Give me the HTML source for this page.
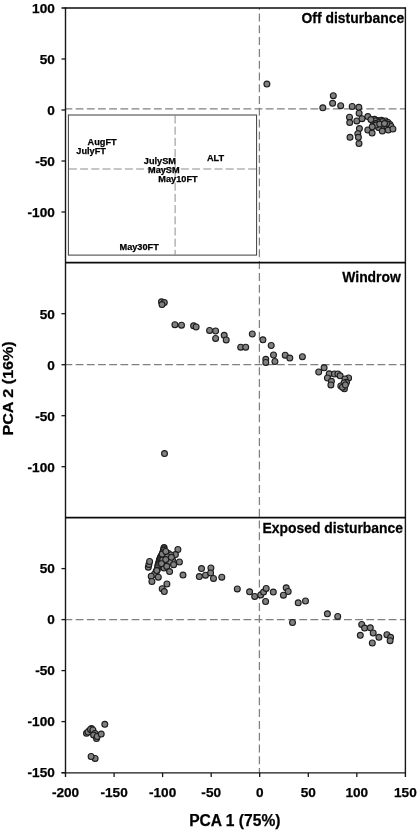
<!DOCTYPE html>
<html lang="en"><head><meta charset="utf-8"><title>PCA plot</title>
<style>
html,body{margin:0;padding:0;background:#fff;}
body{width:419px;height:833px;overflow:hidden;}
svg{display:block;}
text{font-family:"Liberation Sans",Arial,Helvetica,sans-serif;font-weight:700;fill:#000;stroke:#000;stroke-width:0.25px;}
.ax{stroke:#161616;stroke-width:1.4;fill:none;}
.pl{stroke:#0c0c0c;stroke-width:1.7;fill:none;}
.tk{stroke:#161616;stroke-width:1.3;fill:none;}
.ds{stroke:#808080;stroke-width:1.25;fill:none;stroke-dasharray:8 3.5;}
.di{stroke:#707070;stroke-width:0.8;fill:none;stroke-dasharray:8 3.2;}
.pt circle{fill:#808080;stroke:#1c1c1c;stroke-width:1.1;}
.tl{font-size:13.6px;}
.pn{font-size:13.9px;}
.at{font-size:15.6px;}
.il{font-size:9.2px;}
</style></head><body>
<svg width="419" height="833" viewBox="0 0 419 833">
<rect x="0" y="0" width="419" height="833" fill="#ffffff"/>

<line class="ds" x1="66" y1="108.9" x2="405.4" y2="108.9" style="stroke-dasharray:7.8 3.38;stroke-dashoffset:1.5"/>
<line class="ds" x1="66" y1="364.6" x2="405.4" y2="364.6" style="stroke-dasharray:7.8 3.38;stroke-dashoffset:1.5"/>
<line class="ds" x1="66" y1="619.6" x2="405.4" y2="619.6" style="stroke-dasharray:7.8 3.38;stroke-dashoffset:1.5"/>
<line class="ds" x1="259.4" y1="8" x2="259.4" y2="772.9" style="stroke-dasharray:8 3.79;stroke-dashoffset:6.28"/>
<rect x="68.4" y="115" width="188.2" height="140.1" fill="#fff" stroke="#3c3c3c" stroke-width="1"/>
<line class="di" x1="68.9" y1="169" x2="256.1" y2="169"/>
<line class="di" x1="175.1" y1="115.5" x2="175.1" y2="254.6"/>
<text class="il" x="87.6" y="145.0">AugFT</text>
<text class="il" x="76.3" y="153.8">JulyFT</text>
<text class="il" x="143.8" y="163.8">JulySM</text>
<text class="il" x="148.0" y="172.6">MaySM</text>
<text class="il" x="158.3" y="182.1">May10FT</text>
<text class="il" x="206.9" y="160.5">ALT</text>
<text class="il" x="119.5" y="249.6">May30FT</text>
<g class="pt">
<circle cx="266.9" cy="84.1" r="2.95"/>
<circle cx="333.3" cy="95.7" r="2.95"/>
<circle cx="332.6" cy="103.3" r="2.95"/>
<circle cx="322.8" cy="107.8" r="2.95"/>
<circle cx="340.7" cy="105.7" r="2.95"/>
<circle cx="352.2" cy="106.5" r="2.95"/>
<circle cx="358.8" cy="107.3" r="2.95"/>
<circle cx="359.1" cy="113.2" r="2.95"/>
<circle cx="349.5" cy="117.2" r="2.95"/>
<circle cx="349.7" cy="122.6" r="2.95"/>
<circle cx="356.8" cy="120.9" r="2.95"/>
<circle cx="373.0" cy="121.5" r="2.95"/>
<circle cx="380.5" cy="122.5" r="2.95"/>
<circle cx="383.0" cy="126.0" r="2.95"/>
<circle cx="386.8" cy="126.5" r="2.95"/>
<circle cx="378.5" cy="127.5" r="2.95"/>
<circle cx="387.0" cy="122.5" r="2.95"/>
<circle cx="374.5" cy="119.3" r="2.95"/>
<circle cx="377.8" cy="120.6" r="2.95"/>
<circle cx="381.5" cy="120.3" r="2.95"/>
<circle cx="385.5" cy="121.0" r="2.95"/>
<circle cx="388.0" cy="122.5" r="2.95"/>
<circle cx="390.0" cy="124.6" r="2.95"/>
<circle cx="391.0" cy="126.5" r="2.95"/>
<circle cx="375.4" cy="121.0" r="2.95"/>
<circle cx="378.6" cy="122.4" r="2.95"/>
<circle cx="382.6" cy="121.6" r="2.95"/>
<circle cx="386.5" cy="123.8" r="2.95"/>
<circle cx="367.8" cy="116.6" r="2.95"/>
<circle cx="362.0" cy="118.7" r="2.95"/>
<circle cx="375.8" cy="123.6" r="2.95"/>
<circle cx="376.0" cy="125.1" r="2.95"/>
<circle cx="367.8" cy="130.0" r="2.95"/>
<circle cx="372.1" cy="133.1" r="2.95"/>
<circle cx="382.3" cy="131.1" r="2.95"/>
<circle cx="388.2" cy="130.1" r="2.95"/>
<circle cx="392.9" cy="129.0" r="2.95"/>
<circle cx="359.4" cy="128.6" r="2.95"/>
<circle cx="357.8" cy="133.7" r="2.95"/>
<circle cx="350.0" cy="137.3" r="2.95"/>
<circle cx="358.4" cy="137.3" r="2.95"/>
<circle cx="359.0" cy="143.6" r="2.95"/>
<circle cx="370.9" cy="119.6" r="2.95"/>
<circle cx="372.2" cy="126.8" r="2.95"/>
<circle cx="379.7" cy="124.1" r="2.95"/>
<circle cx="384.5" cy="123.6" r="2.95"/>
</g>
<g class="pt">
<circle cx="161.5" cy="301.8" r="2.95"/>
<circle cx="164.3" cy="302.6" r="2.95"/>
<circle cx="162.0" cy="304.6" r="2.95"/>
<circle cx="174.9" cy="324.7" r="2.95"/>
<circle cx="181.5" cy="325.2" r="2.95"/>
<circle cx="193.6" cy="325.8" r="2.95"/>
<circle cx="196.1" cy="327.0" r="2.95"/>
<circle cx="209.6" cy="330.4" r="2.95"/>
<circle cx="215.6" cy="331.0" r="2.95"/>
<circle cx="215.6" cy="338.4" r="2.95"/>
<circle cx="224.2" cy="335.3" r="2.95"/>
<circle cx="226.2" cy="339.9" r="2.95"/>
<circle cx="240.7" cy="347.2" r="2.95"/>
<circle cx="245.7" cy="347.2" r="2.95"/>
<circle cx="252.3" cy="334.0" r="2.95"/>
<circle cx="262.9" cy="339.8" r="2.95"/>
<circle cx="271.2" cy="345.5" r="2.95"/>
<circle cx="273.5" cy="355.0" r="2.95"/>
<circle cx="265.8" cy="359.3" r="2.95"/>
<circle cx="265.8" cy="362.4" r="2.95"/>
<circle cx="274.9" cy="361.5" r="2.95"/>
<circle cx="285.2" cy="355.2" r="2.95"/>
<circle cx="289.8" cy="358.1" r="2.95"/>
<circle cx="302.4" cy="356.7" r="2.95"/>
<circle cx="324.1" cy="367.8" r="2.95"/>
<circle cx="318.7" cy="372.0" r="2.95"/>
<circle cx="329.2" cy="373.8" r="2.95"/>
<circle cx="334.4" cy="374.0" r="2.95"/>
<circle cx="337.9" cy="374.0" r="2.95"/>
<circle cx="340.1" cy="375.8" r="2.95"/>
<circle cx="327.4" cy="378.0" r="2.95"/>
<circle cx="331.4" cy="381.3" r="2.95"/>
<circle cx="330.9" cy="384.9" r="2.95"/>
<circle cx="348.6" cy="377.9" r="2.95"/>
<circle cx="345.0" cy="379.0" r="2.95"/>
<circle cx="346.5" cy="382.3" r="2.95"/>
<circle cx="344.0" cy="382.9" r="2.95"/>
<circle cx="340.8" cy="386.0" r="2.95"/>
<circle cx="344.4" cy="388.8" r="2.95"/>
<circle cx="342.5" cy="387.2" r="2.95"/>
<circle cx="345.4" cy="385.0" r="2.95"/>
<circle cx="164.5" cy="453.6" r="2.95"/>
</g>
<g class="pt">
<circle cx="164.1" cy="547.6" r="2.95"/>
<circle cx="163.8" cy="548.8" r="2.95"/>
<circle cx="163.4" cy="550.2" r="2.95"/>
<circle cx="163.0" cy="552.0" r="2.95"/>
<circle cx="162.3" cy="553.8" r="2.95"/>
<circle cx="161.6" cy="555.4" r="2.95"/>
<circle cx="160.9" cy="556.6" r="2.95"/>
<circle cx="160.4" cy="557.6" r="2.95"/>
<circle cx="160.0" cy="558.6" r="2.95"/>
<circle cx="159.6" cy="559.8" r="2.95"/>
<circle cx="159.3" cy="560.8" r="2.95"/>
<circle cx="158.9" cy="562.2" r="2.95"/>
<circle cx="158.6" cy="563.6" r="2.95"/>
<circle cx="158.2" cy="564.6" r="2.95"/>
<circle cx="157.9" cy="565.8" r="2.95"/>
<circle cx="157.5" cy="567.8" r="2.95"/>
<circle cx="157.2" cy="570.1" r="2.95"/>
<circle cx="156.5" cy="571.0" r="2.95"/>
<circle cx="155.8" cy="572.2" r="2.95"/>
<circle cx="154.3" cy="574.4" r="2.95"/>
<circle cx="148.3" cy="567.2" r="2.95"/>
<circle cx="148.9" cy="564.4" r="2.95"/>
<circle cx="149.6" cy="561.5" r="2.95"/>
<circle cx="151.2" cy="576.2" r="2.95"/>
<circle cx="158.3" cy="577.2" r="2.95"/>
<circle cx="151.9" cy="581.5" r="2.95"/>
<circle cx="168.5" cy="553.5" r="2.95"/>
<circle cx="172.5" cy="560.0" r="2.95"/>
<circle cx="167.5" cy="563.0" r="2.95"/>
<circle cx="164.0" cy="568.0" r="2.95"/>
<circle cx="169.4" cy="561.5" r="2.95"/>
<circle cx="162.9" cy="562.2" r="2.95"/>
<circle cx="177.9" cy="549.5" r="2.95"/>
<circle cx="175.4" cy="554.6" r="2.95"/>
<circle cx="170.8" cy="555.0" r="2.95"/>
<circle cx="167.2" cy="556.5" r="2.95"/>
<circle cx="162.7" cy="559.9" r="2.95"/>
<circle cx="165.7" cy="559.6" r="2.95"/>
<circle cx="161.5" cy="563.7" r="2.95"/>
<circle cx="166.8" cy="566.4" r="2.95"/>
<circle cx="173.6" cy="564.7" r="2.95"/>
<circle cx="179.4" cy="562.0" r="2.95"/>
<circle cx="169.6" cy="571.6" r="2.95"/>
<circle cx="162.2" cy="554.1" r="2.95"/>
<circle cx="171.4" cy="557.3" r="2.95"/>
<circle cx="165.8" cy="551.4" r="2.95"/>
<circle cx="183.0" cy="575.1" r="2.95"/>
<circle cx="156.8" cy="570.6" r="2.95"/>
<circle cx="166.9" cy="584.0" r="2.95"/>
<circle cx="162.2" cy="588.7" r="2.95"/>
<circle cx="164.3" cy="591.6" r="2.95"/>
<circle cx="199.3" cy="576.6" r="2.95"/>
<circle cx="201.5" cy="568.6" r="2.95"/>
<circle cx="210.9" cy="568.0" r="2.95"/>
<circle cx="205.5" cy="575.2" r="2.95"/>
<circle cx="210.6" cy="572.9" r="2.95"/>
<circle cx="213.5" cy="578.4" r="2.95"/>
<circle cx="221.8" cy="577.2" r="2.95"/>
<circle cx="237.3" cy="588.9" r="2.95"/>
<circle cx="249.6" cy="591.8" r="2.95"/>
<circle cx="254.7" cy="596.4" r="2.95"/>
<circle cx="260.7" cy="595.0" r="2.95"/>
<circle cx="263.6" cy="592.1" r="2.95"/>
<circle cx="266.2" cy="588.4" r="2.95"/>
<circle cx="265.6" cy="601.5" r="2.95"/>
<circle cx="273.3" cy="592.1" r="2.95"/>
<circle cx="286.2" cy="587.8" r="2.95"/>
<circle cx="288.2" cy="591.5" r="2.95"/>
<circle cx="283.4" cy="595.2" r="2.95"/>
<circle cx="298.2" cy="602.8" r="2.95"/>
<circle cx="305.5" cy="601.0" r="2.95"/>
<circle cx="292.5" cy="622.5" r="2.95"/>
<circle cx="327.4" cy="613.8" r="2.95"/>
<circle cx="337.7" cy="616.4" r="2.95"/>
<circle cx="361.7" cy="624.4" r="2.95"/>
<circle cx="364.6" cy="628.1" r="2.95"/>
<circle cx="370.3" cy="627.8" r="2.95"/>
<circle cx="373.2" cy="633.0" r="2.95"/>
<circle cx="360.3" cy="635.3" r="2.95"/>
<circle cx="378.9" cy="637.3" r="2.95"/>
<circle cx="372.3" cy="643.0" r="2.95"/>
<circle cx="386.9" cy="634.7" r="2.95"/>
<circle cx="390.6" cy="637.3" r="2.95"/>
<circle cx="390.1" cy="640.7" r="2.95"/>
<circle cx="104.8" cy="724.3" r="2.95"/>
<circle cx="91.5" cy="728.6" r="2.95"/>
<circle cx="89.3" cy="730.8" r="2.95"/>
<circle cx="86.5" cy="733.3" r="2.95"/>
<circle cx="88.0" cy="732.0" r="2.95"/>
<circle cx="90.5" cy="729.5" r="2.95"/>
<circle cx="92.9" cy="731.5" r="2.95"/>
<circle cx="92.9" cy="730.0" r="2.95"/>
<circle cx="95.0" cy="733.5" r="2.95"/>
<circle cx="93.6" cy="735.1" r="2.95"/>
<circle cx="96.5" cy="738.6" r="2.95"/>
<circle cx="97.2" cy="736.5" r="2.95"/>
<circle cx="101.2" cy="734.1" r="2.95"/>
<circle cx="95.1" cy="758.4" r="2.95"/>
<circle cx="91.1" cy="756.5" r="2.95"/>
</g>
<line class="ax" x1="65.5" y1="7.3" x2="65.5" y2="777.1"/>
<line class="ax" x1="405.4" y1="7.3" x2="405.4" y2="777.1"/>
<line class="pl" x1="61.5" y1="8.0" x2="405.4" y2="8.0"/>
<line class="pl" x1="65.5" y1="262.7" x2="405.4" y2="262.7"/>
<line class="pl" x1="65.5" y1="517.6" x2="405.4" y2="517.6"/>
<line class="ax" x1="61.5" y1="772.9" x2="405.4" y2="772.9"/>
<text class="tl" text-anchor="end" x="54.8" y="12.8">100</text>
<line class="tk" x1="61.5" y1="59.0" x2="65.5" y2="59.0"/>
<text class="tl" text-anchor="end" x="54.8" y="63.8">50</text>
<line class="tk" x1="61.5" y1="110.0" x2="65.5" y2="110.0"/>
<text class="tl" text-anchor="end" x="54.8" y="114.8">0</text>
<line class="tk" x1="61.5" y1="161.0" x2="65.5" y2="161.0"/>
<text class="tl" text-anchor="end" x="54.8" y="165.8">-50</text>
<line class="tk" x1="61.5" y1="212.0" x2="65.5" y2="212.0"/>
<text class="tl" text-anchor="end" x="54.8" y="216.8">-100</text>
<line class="tk" x1="61.5" y1="313.7" x2="65.5" y2="313.7"/>
<text class="tl" text-anchor="end" x="54.8" y="318.5">50</text>
<line class="tk" x1="61.5" y1="364.7" x2="65.5" y2="364.7"/>
<text class="tl" text-anchor="end" x="54.8" y="369.5">0</text>
<line class="tk" x1="61.5" y1="415.7" x2="65.5" y2="415.7"/>
<text class="tl" text-anchor="end" x="54.8" y="420.5">-50</text>
<line class="tk" x1="61.5" y1="466.7" x2="65.5" y2="466.7"/>
<text class="tl" text-anchor="end" x="54.8" y="471.5">-100</text>
<line class="tk" x1="61.5" y1="568.6" x2="65.5" y2="568.6"/>
<text class="tl" text-anchor="end" x="54.8" y="573.4">50</text>
<line class="tk" x1="61.5" y1="619.6" x2="65.5" y2="619.6"/>
<text class="tl" text-anchor="end" x="54.8" y="624.4">0</text>
<line class="tk" x1="61.5" y1="670.6" x2="65.5" y2="670.6"/>
<text class="tl" text-anchor="end" x="54.8" y="675.4">-50</text>
<line class="tk" x1="61.5" y1="721.6" x2="65.5" y2="721.6"/>
<text class="tl" text-anchor="end" x="54.8" y="726.4">-100</text>
<line class="tk" x1="61.5" y1="772.6" x2="65.5" y2="772.6"/>
<text class="tl" text-anchor="end" x="54.8" y="777.4">-150</text>
<line class="tk" x1="114.1" y1="772.9" x2="114.1" y2="777.1"/>
<line class="tk" x1="162.6" y1="772.9" x2="162.6" y2="777.1"/>
<line class="tk" x1="211.2" y1="772.9" x2="211.2" y2="777.1"/>
<line class="tk" x1="259.7" y1="772.9" x2="259.7" y2="777.1"/>
<line class="tk" x1="308.3" y1="772.9" x2="308.3" y2="777.1"/>
<line class="tk" x1="356.8" y1="772.9" x2="356.8" y2="777.1"/>
<text class="tl" text-anchor="middle" x="65.5" y="796.5">-200</text>
<text class="tl" text-anchor="middle" x="114.1" y="796.5">-150</text>
<text class="tl" text-anchor="middle" x="162.6" y="796.5">-100</text>
<text class="tl" text-anchor="middle" x="211.2" y="796.5">-50</text>
<text class="tl" text-anchor="middle" x="259.7" y="796.5">0</text>
<text class="tl" text-anchor="middle" x="308.3" y="796.5">50</text>
<text class="tl" text-anchor="middle" x="356.8" y="796.5">100</text>
<text class="tl" text-anchor="middle" x="405.4" y="796.5">150</text>
<text class="pn" text-anchor="end" transform="translate(404.2 23.2) scale(1 1.06)">Off disturbance</text>
<text class="pn" text-anchor="end" transform="translate(400.8 282.2) scale(1 1.04)">Windrow</text>
<text class="pn" text-anchor="end" transform="translate(403.0 533.3) scale(1 1.04)">Exposed disturbance</text>
<text class="at" text-anchor="middle" x="234.8" y="825.8">PCA 1 (75%)</text>
<text class="at" text-anchor="middle" transform="translate(13.3 388.4) rotate(-90) scale(1.033 0.98)">PCA 2 (16%)</text>
</svg>
</body></html>
